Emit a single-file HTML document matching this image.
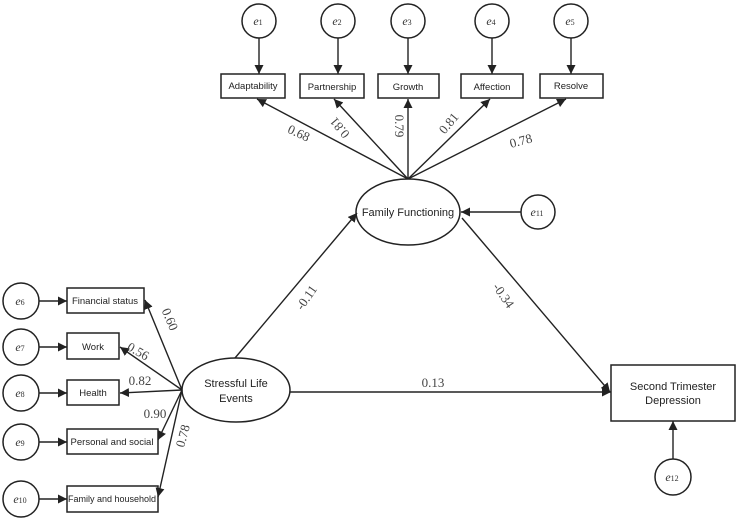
<!DOCTYPE html>
<html><head><meta charset="utf-8"><style>
html,body{margin:0;padding:0;background:#fff;width:738px;height:519px;overflow:hidden}
svg{display:block}
.b{font-family:"Liberation Sans",sans-serif;font-size:9.5px;fill:#222}
.l{font-family:"Liberation Serif",serif;font-size:13px;fill:#444}
.e{font-family:"Liberation Serif",serif;font-style:italic;font-size:12px;fill:#333}
.s{font-size:8px;font-style:normal}
</style></head><body>
<svg width="738" height="519" viewBox="0 0 738 519" xmlns="http://www.w3.org/2000/svg">
<defs><marker id="a" viewBox="0 0 10 10" refX="10" refY="5" markerWidth="9" markerHeight="9" markerUnits="userSpaceOnUse" orient="auto"><path d="M0,0 L10,5 L0,10 z" fill="#222"/></marker></defs>
<g stroke="#222" stroke-width="1.5" fill="#fff">
<circle cx="259" cy="21" r="17"/><circle cx="338" cy="21" r="17"/><circle cx="408" cy="21" r="17"/><circle cx="492" cy="21" r="17"/><circle cx="571" cy="21" r="17"/>
<rect x="221" y="74" width="64" height="24"/><rect x="300" y="74" width="64" height="24"/><rect x="378" y="74" width="61" height="24"/><rect x="461" y="74" width="62" height="24"/><rect x="540" y="74" width="63" height="24"/>
<ellipse cx="408" cy="212" rx="52" ry="33"/>
<circle cx="538" cy="212" r="17"/>
<ellipse cx="236" cy="390" rx="54" ry="32"/>
<rect x="611" y="365" width="124" height="56"/>
<circle cx="673" cy="477" r="18"/>
<circle cx="21" cy="301" r="18"/><circle cx="21" cy="347" r="18"/><circle cx="21" cy="393" r="18"/><circle cx="21" cy="442" r="18"/><circle cx="21" cy="499" r="18"/>
<rect x="67" y="288" width="77" height="25"/><rect x="67" y="333" width="52" height="26"/><rect x="67" y="380" width="52" height="25"/><rect x="67" y="429" width="91" height="25"/><rect x="67" y="486" width="91" height="26"/>
</g>
<g stroke="#222" stroke-width="1.4" fill="none" marker-end="url(#a)">
<line x1="259" y1="38" x2="259" y2="74"/><line x1="338" y1="38" x2="338" y2="74"/><line x1="408" y1="38" x2="408" y2="74"/><line x1="492" y1="38" x2="492" y2="74"/><line x1="571" y1="38" x2="571" y2="74"/>
<line x1="408" y1="179" x2="257" y2="99"/><line x1="408" y1="179" x2="334" y2="99"/><line x1="408" y1="179" x2="408" y2="99"/><line x1="408" y1="179" x2="490" y2="99"/><line x1="408" y1="179" x2="566" y2="99"/>
<line x1="521" y1="212" x2="461" y2="212"/>
<line x1="235" y1="358" x2="357" y2="213"/>
<line x1="462" y1="218" x2="610" y2="392"/>
<line x1="290" y1="392" x2="611" y2="392"/>
<line x1="673" y1="459" x2="673" y2="421"/>
<line x1="39" y1="301" x2="67" y2="301"/><line x1="39" y1="347" x2="67" y2="347"/><line x1="39" y1="393" x2="67" y2="393"/><line x1="39" y1="442" x2="67" y2="442"/><line x1="39" y1="499" x2="67" y2="499"/>
<line x1="182" y1="390" x2="145" y2="300"/><line x1="182" y1="390" x2="120" y2="347"/><line x1="182" y1="390" x2="120" y2="393"/><line x1="182" y1="390" x2="158" y2="440"/><line x1="182" y1="390" x2="158" y2="497"/>
</g>
<g class="b" text-anchor="middle">
<text x="253" y="89">Adaptability</text><text x="332" y="90">Partnership</text><text x="408" y="90">Growth</text><text x="492" y="90">Affection</text><text x="571" y="89">Resolve</text>
<text x="408" y="216" font-size="11">Family Functioning</text>
<text x="236" y="387" font-size="11">Stressful Life</text><text x="236" y="402" font-size="11">Events</text>
<text x="673" y="390" font-size="11">Second Trimester</text><text x="673" y="404" font-size="11">Depression</text>
<text x="105" y="304">Financial status</text><text x="93" y="350">Work</text><text x="93" y="396">Health</text><text x="112" y="445">Personal and social</text><text x="112" y="502" font-size="9">Family and household</text>
</g>
<g class="e" text-anchor="middle">
<text x="258" y="25">e<tspan class="s">1</tspan></text><text x="337" y="25">e<tspan class="s">2</tspan></text><text x="407" y="25">e<tspan class="s">3</tspan></text><text x="491" y="25">e<tspan class="s">4</tspan></text><text x="570" y="25">e<tspan class="s">5</tspan></text>
<text x="537" y="216">e<tspan class="s">11</tspan></text><text x="672" y="481">e<tspan class="s">12</tspan></text>
<text x="20" y="305">e<tspan class="s">6</tspan></text><text x="20" y="351">e<tspan class="s">7</tspan></text><text x="20" y="397">e<tspan class="s">8</tspan></text><text x="20" y="446">e<tspan class="s">9</tspan></text><text x="20" y="503">e<tspan class="s">10</tspan></text>
</g>
<g class="l" text-anchor="middle">
<text transform="translate(297,137) rotate(25)">0.68</text>
<text transform="translate(343,125) rotate(230)">0.81</text>
<text transform="translate(395,126) rotate(90)">0.79</text>
<text transform="translate(452,126) rotate(-50)">0.81</text>
<text transform="translate(522,145) rotate(-15)">0.78</text>
<text transform="translate(310,300) rotate(-55)">-0.11</text>
<text transform="translate(500,298) rotate(55)">-0.34</text>
<text x="433" y="387">0.13</text>
<text transform="translate(166,321) rotate(67)">0.60</text>
<text transform="translate(136,355) rotate(30)">0.56</text>
<text x="140" y="385">0.82</text>
<text x="155" y="418">0.90</text>
<text transform="translate(187,437) rotate(-75)">0.78</text>
</g>
</svg>
</body></html>
